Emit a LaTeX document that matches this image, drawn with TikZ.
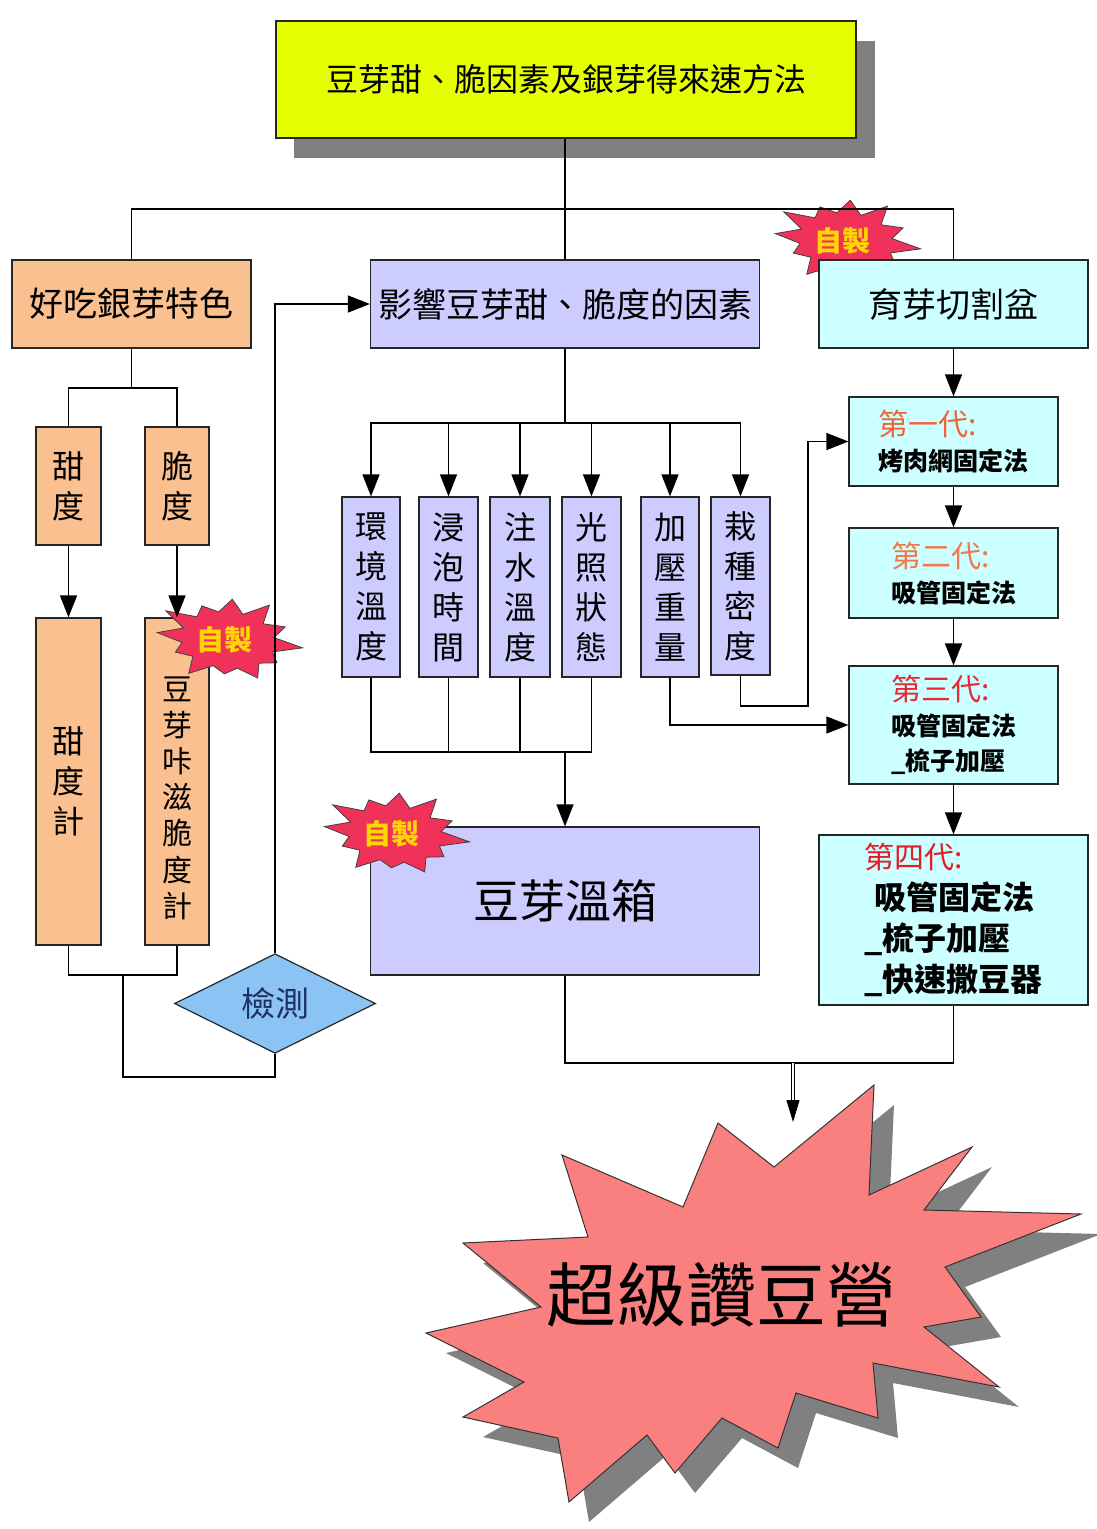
\documentclass[tikz,border=0pt]{standalone}
\usepackage{fontspec}
\setmainfont{Noto Sans CJK TC}
\usetikzlibrary{arrows.meta,shapes.geometric,calc}
\definecolor{ttlyellow}{RGB}{230,255,0}
\definecolor{peach}{RGB}{250,192,144}
\definecolor{lav}{RGB}{204,204,255}
\definecolor{ltcyan}{RGB}{204,255,255}
\definecolor{diablue}{RGB}{140,195,245}
\definecolor{detnavy}{RGB}{30,50,100}
\definecolor{burstred}{RGB}{240,50,90}
\definecolor{burstyel}{RGB}{255,215,0}
\definecolor{bigred}{RGB}{250,128,128}
\definecolor{shadowgray}{RGB}{128,128,128}
\definecolor{genA}{RGB}{240,100,60}
\definecolor{genB}{RGB}{240,120,75}
\definecolor{genC}{RGB}{232,40,55}
\definecolor{genD}{RGB}{225,30,40}
\newcommand\fsz[2]{\fontsize{#1pt}{#2pt}\selectfont}
\tikzset{
  box/.style={draw=black!85, line width=1.2pt, inner sep=0pt, align=center},
  conn/.style={draw=black, line width=1.3pt},
  arr/.style={-{Triangle[length=22pt,width=17pt]}},
  vtext/.style={font=\fsz{32}{40}},
  selfmade/.pic={
    \draw[fill=burstred, draw=black!75, line width=0.8pt, rotate=-6]
      (0:75pt and 45pt)
      \foreach \a/\rx/\ry in {15/64/38,45/75/45,75/67/41,105/59/36,135/75/45,165/71/43,195/59/35,225/71/43,255/56/34,285/67/40,315/59/35,345/75/45}
      { -- (\a:47pt and 28pt) -- (\a+15:\rx pt and \ry pt)} -- cycle;
    \node[text=burstyel, font=\fsz{28}{30}\bfseries] (-t) at (-4,0) {自製};
  }
}
\begin{document}
\begin{tikzpicture}[x=1pt,y=-1pt]
\useasboundingbox (0,0) rectangle (1097,1529);

% title with shadow
\fill[shadowgray] (294,41) rectangle (875,158);
\node[box, fill=ttlyellow, minimum width=580pt, minimum height=117pt, font=\fsz{32}{36}] (title) at (566,79.5) {豆芽甜、脆因素及銀芽得來速方法};

% star behind cut box
\pic (bA) at (846,241) {selfmade};

% second row
\node[box, fill=peach, minimum width=239pt, minimum height=88pt, font=\fsz{34}{40}] (good) at (131.5,304) {好吃銀芽特色};
\node[box, fill=lav, minimum width=389pt, minimum height=88pt, font=\fsz{34}{40}] (infl) at (565,304) {影響豆芽甜、脆度的因素};
\node[box, fill=ltcyan, minimum width=269pt, minimum height=88pt, font=\fsz{34}{40}] (cut) at (953.5,304) {育芽切割盆};

% left column
\node[box, fill=peach, minimum width=65pt, minimum height=118pt, vtext] (tian) at (68.5,486) {甜\\度};
\node[box, fill=peach, minimum width=64pt, minimum height=118pt, vtext] (cui) at (177,486) {脆\\度};
\node[box, fill=peach, minimum width=65pt, minimum height=327pt, vtext] (tianji) at (68.5,781.5) {甜\\度\\計};
\node[box, fill=peach, minimum width=64pt, minimum height=327pt] (cuiji) at (177,781.5) {};
\node[align=center, font=\fsz{30}{36.2}] (cuijit) at (177,798) {豆\\芽\\咔\\滋\\脆\\度\\計};
\pic (bB) at (228,640) {selfmade};

% detection diamond
\node[diamond, draw=black!85, line width=1.2pt, fill=diablue, minimum width=201pt, minimum height=87pt, inner sep=0pt, text=detnavy, font=\fsz{34}{40}] (det) at (275,1003.5) {檢測};

% factors
\node[box, fill=lav, minimum width=58pt, minimum height=180pt, vtext] (f1) at (371,587) {環\\境\\溫\\度};
\node[box, fill=lav, minimum width=59pt, minimum height=180pt, vtext] (f2) at (448.5,587) {浸\\泡\\時\\間};
\node[box, fill=lav, minimum width=60pt, minimum height=180pt, vtext] (f3) at (520,587) {注\\水\\溫\\度};
\node[box, fill=lav, minimum width=59pt, minimum height=180pt, vtext] (f4) at (591.5,587) {光\\照\\狀\\態};
\node[box, fill=lav, minimum width=58pt, minimum height=180pt, vtext] (f5) at (670,587) {加\\壓\\重\\量};
\node[box, fill=lav, minimum width=59pt, minimum height=178pt, vtext] (f6) at (740.5,586) {栽\\種\\密\\度};

% oven
\node[box, fill=lav, minimum width=389pt, minimum height=148pt, font=\fsz{46}{50}] (oven) at (565,901) {豆芽溫箱};
\pic (bC) at (395,834) {selfmade};

% generations
\node[box, fill=ltcyan, minimum width=209pt, minimum height=89pt, align=left, font=\fsz{25}{35}] (g1) at (953.5,441.5)
  {{\color{genA}\fsz{30}{35}第一代:}\\{\bfseries 烤肉網固定法}};
\node[box, fill=ltcyan, minimum width=209pt, minimum height=90pt, align=left, font=\fsz{25}{35}] (g2) at (953.5,573)
  {{\color{genB}\fsz{30}{35}第二代:}\\{\bfseries 吸管固定法}};
\node[box, fill=ltcyan, minimum width=209pt, minimum height=118pt, align=left, font=\fsz{25}{35}] (g3) at (953.5,725)
  {{\color{genC}\fsz{30}{35}第三代:}\\{\bfseries 吸管固定法}\\{\bfseries \_梳子加壓}};
\node[box, fill=ltcyan, minimum width=269pt, minimum height=170pt, align=left, font=\fsz{32}{41}] (g4) at (953.5,920)
  {{\color{genD}\fsz{30}{41}第四代:}\\\hspace*{10pt}{\bfseries 吸管固定法}\\{\bfseries \_梳子加壓}\\{\bfseries \_快速撒豆器}};

% big burst
\fill[shadowgray, shift={(20,20)}] (874,1085) -- (869,1195) -- (972,1147) -- (924,1210) -- (1081,1214) -- (945,1267) -- (981,1317) -- (924,1327) -- (999,1387) -- (873,1363) -- (878,1418) -- (796,1393) -- (778,1448) -- (722,1418) -- (675,1473) -- (647,1435) -- (569,1502) -- (558,1438) -- (463,1417) -- (524,1382) -- (426,1333) -- (541,1307) -- (463,1243) -- (588,1237) -- (562,1155) -- (683,1207) -- (718,1123) -- (774,1167) -- cycle;
\draw[fill=bigred, draw=black!80, line width=1pt] (874,1085) -- (869,1195) -- (972,1147) -- (924,1210) -- (1081,1214) -- (945,1267) -- (981,1317) -- (924,1327) -- (999,1387) -- (873,1363) -- (878,1418) -- (796,1393) -- (778,1448) -- (722,1418) -- (675,1473) -- (647,1435) -- (569,1502) -- (558,1438) -- (463,1417) -- (524,1382) -- (426,1333) -- (541,1307) -- (463,1243) -- (588,1237) -- (562,1155) -- (683,1207) -- (718,1123) -- (774,1167) -- cycle;
\node[font=\fsz{70}{72}] (bigstar) at (721,1295) {超級讚豆營};

% connectors
\coordinate (jt) at (565,209);
\draw[conn] (infl.north) -- (title.south -| infl.north);
\draw[conn] (good.north) |- (jt) -| (cut.north);
\coordinate (js) at (131.5,388);
\draw[conn] (good.south) -- (js);
\draw[conn] (tian.north) |- (js) -| (cui.north);
\draw[conn,arr] (tian.south) -- (tianji.north);
\draw[conn,arr] (cui.south) -- (cuiji.north);
\coordinate (jb) at (123,975);
\draw[conn] (tianji.south) |- (jb) -| (cuiji.south);
\coordinate (jc) at (275,1077);
\draw[conn] (jb) |- (jc) -- (det.south);
\draw[conn,arr] (det.north) |- (infl.west);
\coordinate (jf) at (565,423);
\draw[conn] (infl.south) -- (jf);
\foreach \f in {f1,f2,f3,f4,f5,f6} { \draw[conn,arr] (jf) -| (\f.north); }
\coordinate (jg) at (565,752);
\foreach \f in {f1,f2,f3,f4} { \draw[conn] (\f.south) |- (jg); }
\draw[conn,arr] (jg) -- (oven.north);
\draw[conn,arr] (f5.south) |- (g3.west);
\coordinate (jk) at (808,706);
\draw[conn,arr] (f6.south) |- (jk) |- (g1.west);
\draw[conn,arr] (cut.south) -- (g1.north);
\draw[conn,arr] (g1.south) -- (g2.north);
\draw[conn,arr] (g2.south) -- (g3.north);
\draw[conn,arr] (g3.south) -- (g4.north);
\coordinate (jm) at (565,1063);
\draw[conn] (oven.south) -- (jm) -| (g4.south);
\coordinate (jn) at (793,1063);
\coordinate (jp) at (793,1122);
\draw[draw=black, line width=0.9pt, double, double distance=2pt, -{Triangle[length=22pt,width=13pt]}] (jn) -- (jp);
\end{tikzpicture}
\end{document}
